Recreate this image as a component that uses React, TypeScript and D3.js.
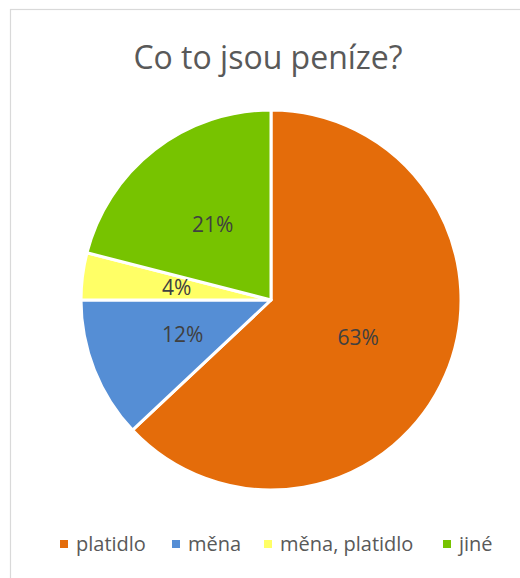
import React, { useEffect, useRef } from "react";
import * as d3 from "d3";

const title = "Co to jsou peníze?";
const categories = ["platidlo", "měna", "měna, platidlo", "jiné"];
const shares = [63, 12, 4, 21];
const colors = ["#E46C0A", "#558ED5", "#FFFF66", "#77C300"];

const W = 520;
const H = 578;

export default function App() {
  const svgRef = useRef<SVGSVGElement>(null);

  useEffect(() => {
    const svg = d3.select(svgRef.current);
    svg.selectAll("*").remove();

    const font = "'Open Sans', 'Noto Sans', sans-serif";

    svg
      .append("rect")
      .attr("x", 10.5)
      .attr("y", 9.5)
      .attr("width", W + 20)
      .attr("height", H + 20)
      .attr("fill", "white")
      .attr("stroke", "#D9D9D9")
      .attr("stroke-width", 1.2);

    svg
      .append("text")
      .attr("x", 268)
      .attr("y", 69)
      .attr("text-anchor", "middle")
      .attr("font-family", font)
      .attr("font-size", 32)
      .attr("fill", "#595959")
      .text(title);

    const cx = 271;
    const cy = 300;
    const r = 190;

    const color = d3.scaleOrdinal<string, string>().domain(categories).range(colors);

    const pie = d3
      .pie<number>()
      .sort(null)
      .value((d) => d);
    const arcs = pie(shares);
    const arc = d3.arc<d3.PieArcDatum<number>>().innerRadius(0).outerRadius(r);

    const g = svg.append("g").attr("transform", `translate(${cx},${cy})`);

    g.selectAll("path")
      .data(arcs)
      .enter()
      .append("path")
      .attr("d", arc)
      .attr("fill", (d, i) => color(categories[i]))
      .attr("stroke", "white")
      .attr("stroke-width", 3)
      .attr("stroke-linejoin", "round");

    g.selectAll("text")
      .data(arcs)
      .enter()
      .append("text")
      .attr("transform", (d) => `translate(${arc.centroid(d)})`)
      .attr("text-anchor", "middle")
      .attr("dy", "0.35em")
      .attr("font-family", font)
      .attr("font-size", 21)
      .attr("fill", "#404040")
      .text((d) => `${d.data}%`);

    // legend
    const legendX = [60, 172, 264, 443];
    const legY = 544;
    const lg = svg.append("g");
    categories.forEach((c, i) => {
      lg.append("rect")
        .attr("x", legendX[i])
        .attr("y", legY - 4)
        .attr("width", 8)
        .attr("height", 8)
        .attr("fill", color(c));
      lg.append("text")
        .attr("x", legendX[i] + 16)
        .attr("y", legY)
        .attr("dy", "0.35em")
        .attr("font-family", font)
        .attr("font-size", 20)
        .attr("fill", "#595959")
        .text(c);
    });
  }, []);

  return (
    <svg
      ref={svgRef}
      width={W}
      height={H}
      style={{ position: "absolute", left: 0, top: 0, display: "block" }}
    ></svg>
  );
}
